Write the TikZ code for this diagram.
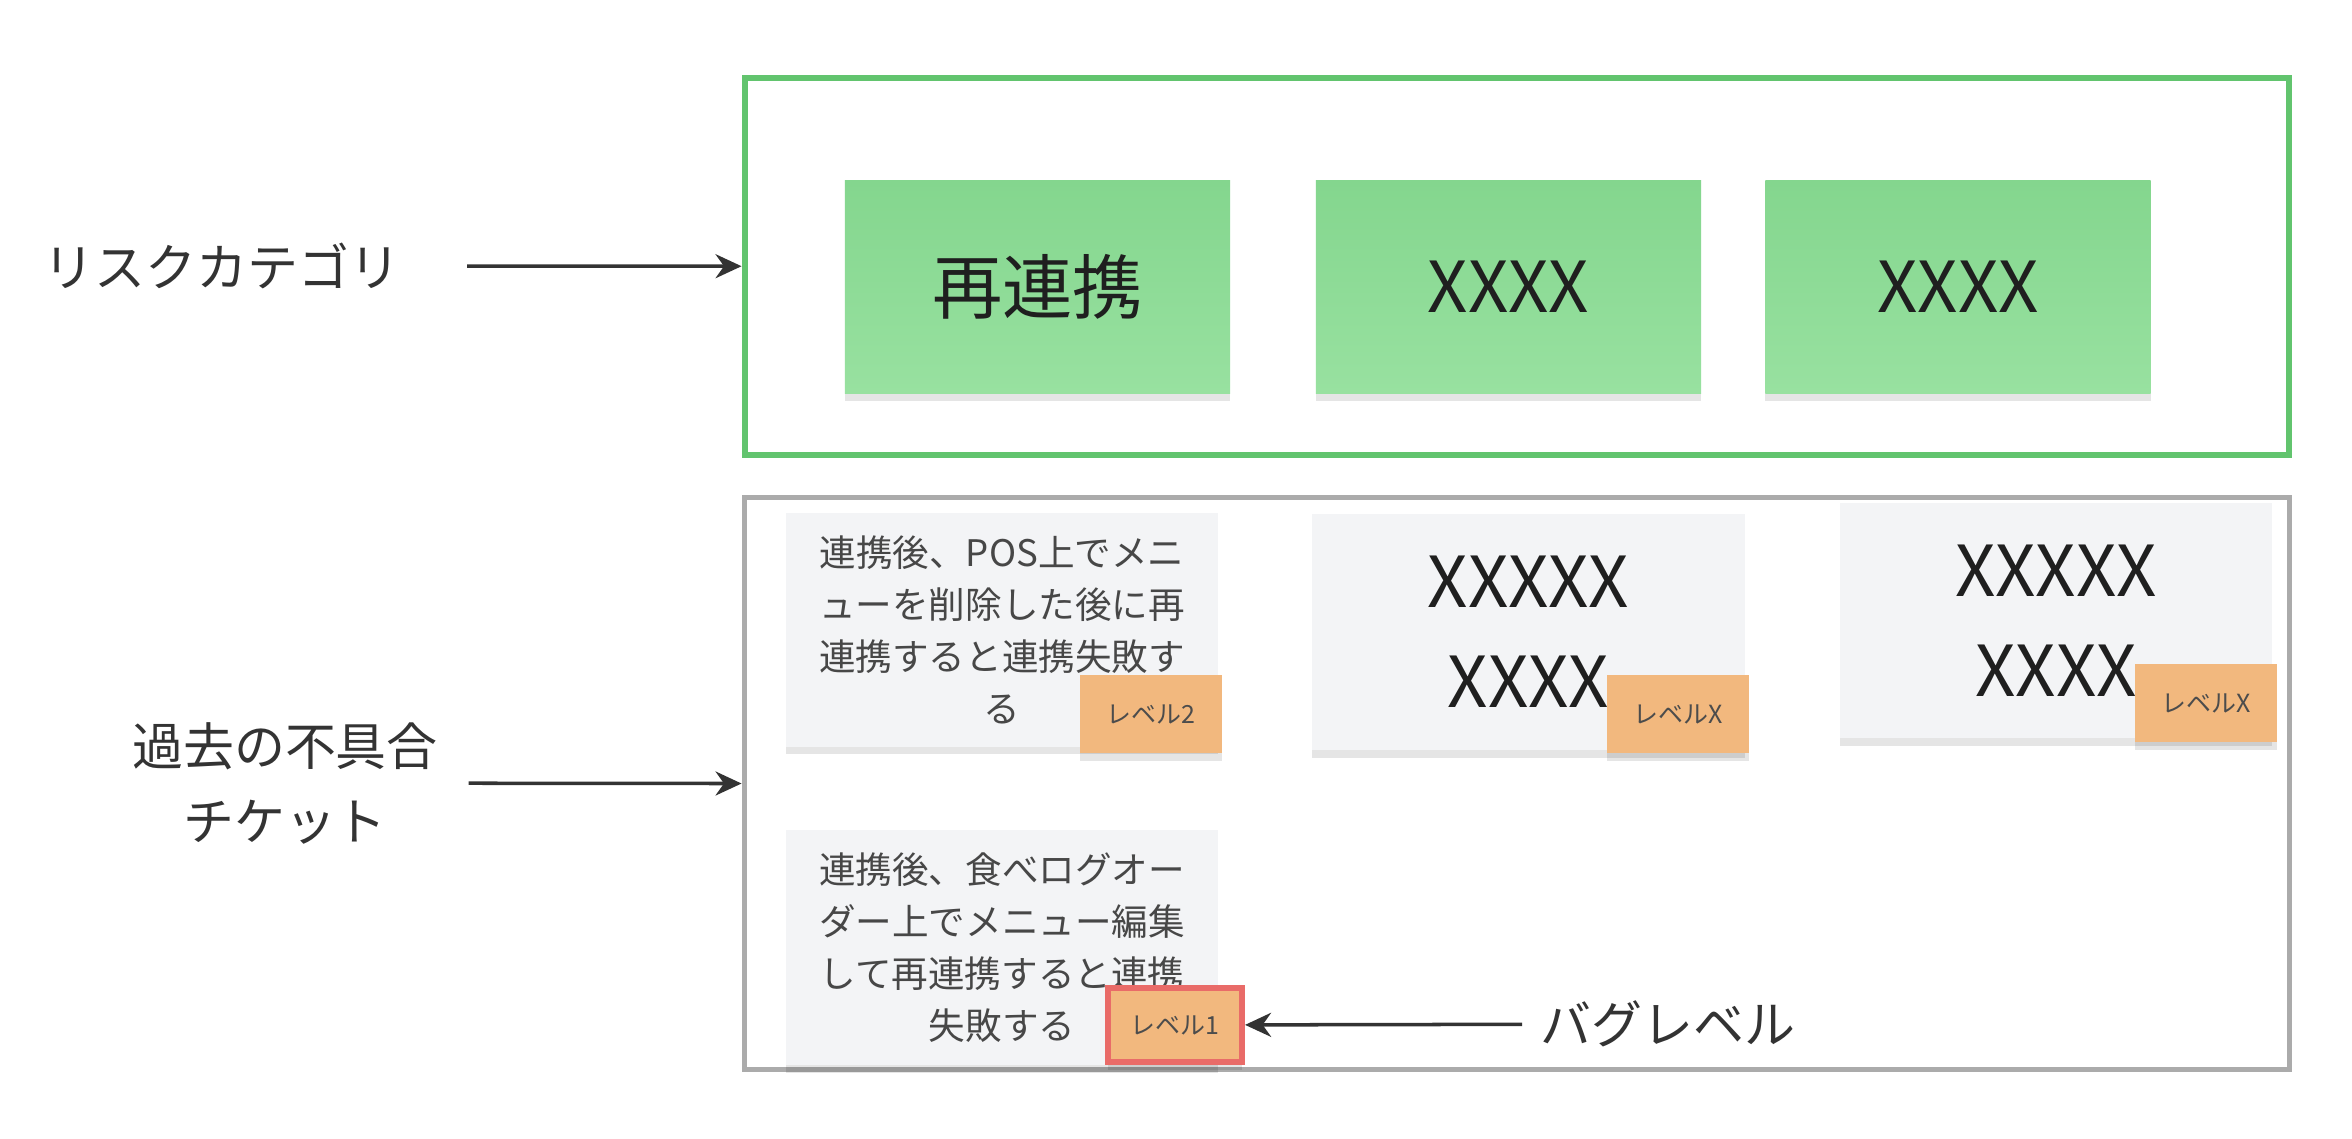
\documentclass[tikz,border=0pt]{standalone}
\usepackage{fontspec}
\setmainfont{Noto Sans CJK JP}
\usetikzlibrary{arrows.meta,shadows}
\definecolor{gframe}{HTML}{62C46E}
\definecolor{gtop}{HTML}{84D68E}
\definecolor{gbot}{HTML}{98E1A0}
\definecolor{grayframe}{HTML}{ABABAB}
\definecolor{ticketfill}{HTML}{F3F4F6}
\definecolor{badgefill}{HTML}{F2B87E}
\definecolor{redb}{HTML}{E96B68}
\definecolor{ink}{HTML}{333333}
\definecolor{tink}{HTML}{474747}
\begin{document}
\begin{tikzpicture}[x=0.01cm,y=-0.01cm,
  frame/.style={draw, fill=white, rectangle},
  softshadow/.style={drop shadow={shadow xshift=0pt, shadow yshift=-2.2pt, opacity=0.10, fill=black}},
  catnote/.style={rectangle, top color=gtop, bottom color=gbot, draw=none,
    minimum width=3.85cm, minimum height=2.12cm, text=black!88, softshadow,
    font=\fontsize{20pt}{24pt}\selectfont},
  ticket/.style={rectangle, fill=ticketfill, draw=none,
    minimum width=4.32cm, minimum height=2.33cm, align=center, softshadow},
  jtext/.style={text=tink, font=\fontsize{10.4pt}{14.8pt}\selectfont},
  xtext/.style={text=black!88, font=\fontsize{20pt}{28.5pt}\selectfont},
  badge/.style={rectangle, fill=badgefill, draw=none, minimum width=1.42cm, minimum height=0.78cm,
    text=black!70, font=\fontsize{7.1pt}{8pt}\selectfont, softshadow},
  lbl/.style={inner sep=0pt, text=ink, align=center, font=\fontsize{14.5pt}{21.3pt}\selectfont},
  arr/.style={draw=ink, line width=1pt, -{Stealth[length=0.26cm, width=0.24cm]}}
]
\useasboundingbox (0,0) rectangle (2352,1138);

% frames
\node[frame, draw=gframe, line width=0.06cm, minimum width=15.44cm, minimum height=3.77cm] (green) at (1517,266.5) {};
\node[frame, draw=grayframe, line width=0.05cm, minimum width=15.45cm, minimum height=5.72cm] (gray) at (1517,783.5) {};

% category notes
\node[catnote] (c1) at (1037.5,287) {再連携};
\node[catnote] (c2) at (1508.5,287) {XXXX};
\node[catnote] (c3) at (1958,287) {XXXX};

% ticket notes
\node[ticket, jtext] (t1) at (1002,630) {連携後、POS上でメニ\\ューを削除した後に再\\連携すると連携失敗す\\る};
\node[ticket, xtext, minimum height=2.36cm] (t2) at (1528.5,632) {XXXXX\\XXXX};
\node[ticket, xtext, minimum height=2.35cm] (t3) at (2056,620.5) {XXXXX\\XXXX};
\node[ticket, jtext, minimum height=2.35cm] (t4) at (1002,947.5) {連携後、食べログオー\\ダー上でメニュー編集\\して再連携すると連携\\失敗する};

% badges
\node[badge] (b1) at (1151,714) {レベル2};
\node[badge] (b2) at (1678,714) {レベルX};
\node[badge] (b3) at (2206,703) {レベルX};
\node[badge, draw=redb, line width=0.06cm, minimum width=1.34cm, minimum height=0.74cm] (b4) at (1175,1025) {レベル1};

% labels
\node[lbl] (risk) at (222,266) {リスクカテゴリ};
\node[lbl] (past) at (285,783) {過去の不具合\\チケット};
\node[lbl, anchor=west] (bug) at (1540,1024) {バグレベル};

% arrows
\draw[arr, shorten <=0.66cm] (risk) -- (green);
\draw[arr, shorten <=0.30cm] (past) -- (gray.west);
\draw[arr, shorten <=0.18cm] (bug) -- (b4);
\end{tikzpicture}
\end{document}
